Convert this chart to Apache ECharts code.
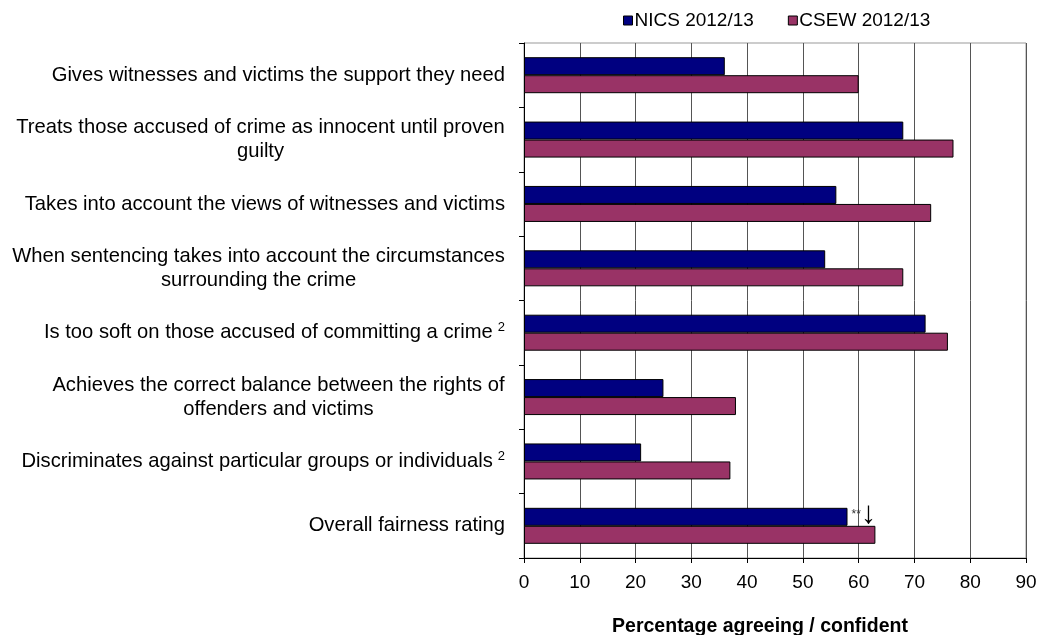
<!DOCTYPE html>
<html>
<head>
<meta charset="utf-8">
<script src="https://cdn.jsdelivr.net/npm/echarts@6/dist/echarts.min.js"></script>
<style>
html,body{margin:0;padding:0;background:#fff;}
#chart{width:1040px;height:635px;}
</style>
</head>
<body>
<div id="chart"></div>
<script>
// ---- data ----
var categories = [
  'Gives witnesses and victims the support they need',
  'Treats those accused of crime as innocent until proven\nguilty',
  'Takes into account the views of witnesses and victims',
  'When sentencing takes into account the circumstances\nsurrounding the crime',
  'Is too soft on those accused of committing a crime',
  'Achieves the correct balance between the rights of\noffenders and victims',
  'Discriminates against particular groups or individuals',
  'Overall fairness rating'
];
var footnotes = ['', '', '', '', '2', '', '2', ''];
var seriesNames = ['NICS 2012/13', 'CSEW 2012/13'];
var nicsValues = [36, 68, 56, 54, 72, 25, 21, 58];
var csewValues = [60, 77, 73, 68, 76, 38, 37, 63];
var annotationIndex = 7;       // Overall fairness rating, NICS
var annotationText = '**';
var xTicks = [0, 10, 20, 30, 40, 50, 60, 70, 80, 90];
var xAxisTitle = 'Percentage agreeing / confident';

// ---- build ----
var FONT = "'Liberation Sans', Arial, sans-serif";
var LFS = 20.2;
var cv = document.createElement('canvas').getContext('2d');
cv.font = LFS + 'px ' + FONT;

var rich = {
  t: {fontSize: LFS, fontFamily: FONT, color: '#000', lineHeight: 24},
  sup: {fontSize: 13, fontFamily: FONT, color: '#000', padding: [0, 0, 10, 5]}
};
var labelMap = {};
categories.forEach(function (c, i) {
  var lines = c.split('\n');
  var txt;
  if (lines.length > 1) {
    var w = Math.max.apply(null, lines.map(function (l) { return cv.measureText(l).width; }));
    var key = 'm' + i;
    rich[key] = {width: Math.ceil(w), align: 'center', fontSize: LFS, fontFamily: FONT, color: '#000', lineHeight: 24};
    txt = lines.map(function (l) { return '{' + key + '|' + l + '}'; }).join('\n');
  } else {
    txt = '{t|' + c + '}';
  }
  if (footnotes[i]) txt += '{sup|' + footnotes[i] + '}';
  labelMap[c] = txt;
});

var nicsData = nicsValues.map(function (v, i) {
  if (i === annotationIndex) {
    return {
      value: v,
      label: {
        show: true, position: 'right', distance: 4,
        formatter: '{s|' + annotationText + '}{a|↓}',
        rich: {
          s: {fontSize: 12, fontFamily: FONT, color: '#333', padding: [0, 0, 4, 0]},
          a: {fontSize: 31, fontFamily: FONT, color: '#000', padding: [0, 0, 5, 0]}
        }
      }
    };
  }
  return v;
});

var chart = echarts.init(document.getElementById('chart'), null, {renderer: 'canvas'});
chart.setOption({
  animation: false,
  backgroundColor: '#fff',
  legend: {
    data: seriesNames,
    top: 6,
    left: 618,
    itemWidth: 9,
    itemHeight: 9,
    itemGap: 34,
    icon: 'rect',
    textStyle: {fontSize: 19, fontFamily: FONT, color: '#000', padding: [0, 0, 0, -3]},
    itemStyle: {borderColor: '#000', borderWidth: 1}
  },
  grid: {
    left: 524, right: 14, top: 43, bottom: 77,
    show: true, borderColor: '#999', borderWidth: 1,
    containLabel: false,
    outerBoundsMode: 'none'
  },
  xAxis: {
    type: 'value', min: 0, max: 90, interval: 10,
    name: xAxisTitle,
    nameLocation: 'middle',
    nameGap: 59,
    nameTextStyle: {fontSize: 19.5, fontWeight: 'bold', fontFamily: FONT, color: '#000', padding: [0, 30, 0, 0]},
    axisLine: {show: true, lineStyle: {color: '#000', width: 1}},
    axisTick: {show: true, length: 5, lineStyle: {color: '#000'}},
    axisLabel: {fontSize: 19, fontFamily: FONT, color: '#000', margin: 15,
      formatter: function (v) { return xTicks.indexOf(v) >= 0 ? String(v) : ''; }},
    splitLine: {show: true, lineStyle: {color: '#555', width: 1}}
  },
  yAxis: {
    type: 'category', data: categories, inverse: true,
    axisLine: {show: true, lineStyle: {color: '#000', width: 1}},
    axisTick: {show: true, length: 5, lineStyle: {color: '#000'}},
    axisLabel: {
      margin: 19, align: 'right',
      formatter: function (v) { return labelMap[v]; },
      rich: rich
    },
    splitLine: {show: false}
  },
  series: [
    {
      name: seriesNames[0], type: 'bar', data: nicsData,
      barWidth: 18, barGap: '0%', barCategoryGap: '43%',
      itemStyle: {color: '#000080', borderColor: '#000', borderWidth: 1}
    },
    {
      name: seriesNames[1], type: 'bar', data: csewValues,
      barWidth: 18, barGap: '0%', barCategoryGap: '43%',
      itemStyle: {color: '#993366', borderColor: '#000', borderWidth: 1}
    }
  ]
});
</script>
</body>
</html>
